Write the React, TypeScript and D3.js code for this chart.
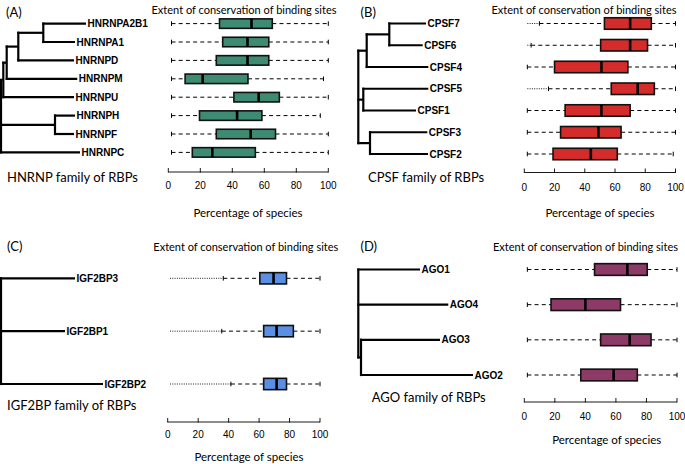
import React from "react";
import * as d3 from "d3";

type TNode = { name?: string; len: number; children?: TNode[] };

// ---------- Panel A: HNRNP ----------
const hnrnpNames = ["HNRNPA2B1", "HNRNPA1", "HNRNPD", "HNRNPM", "HNRNPU", "HNRNPH", "HNRNPF", "HNRNPC"];
const hnrnpOut: (number | null)[] = [null, null, null, null, null, null, null, null];
const hnrnpLow = [2, 2, 2, 2, 2, 2, 2, 2];
const hnrnpQ1 = [32, 34, 30, 10.5, 41, 19.5, 30, 15];
const hnrnpMed = [52, 49.5, 49.5, 21.5, 56.5, 43, 51.5, 27.5];
const hnrnpQ3 = [65, 62.8, 62.8, 49.8, 69.4, 58.5, 67, 54.4];
const hnrnpHigh = [100, 100, 100, 97, 100, 95, 100, 100];
const hnrnpTree: TNode = {
  len: 0,
  children: [
    {
      len: 2.3,
      children: [
        {
          len: 3.4,
          children: [
            {
              len: 11.6,
              children: [
                { len: 25, children: [{ name: "HNRNPA2B1", len: 42.7 }, { name: "HNRNPA1", len: 31.7 }] },
                { name: "HNRNPD", len: 55.7 },
              ],
            },
            { name: "HNRNPM", len: 70.6 },
          ],
        },
        { name: "HNRNPU", len: 70.7 },
      ],
    },
    { len: 54, children: [{ name: "HNRNPH", len: 20 }, { name: "HNRNPF", len: 19 }] },
    { name: "HNRNPC", len: 79 },
  ],
};

// ---------- Panel B: CPSF ----------
const cpsfNames = ["CPSF7", "CPSF6", "CPSF4", "CPSF5", "CPSF1", "CPSF3", "CPSF2"];
const cpsfOut: (number | null)[] = [2, 2, null, 2, null, null, null];
const cpsfLow = [10, 4.5, 2, 16, 2, 2, 2];
const cpsfQ1 = [53, 50.5, 20, 57.5, 27, 24, 19];
const cpsfMed = [70, 70, 51, 75, 51, 49, 44];
const cpsfQ3 = [84, 81.5, 68.5, 86, 70, 64, 61.5];
const cpsfHigh = [100, 100, 100, 100, 100, 100, 98.5];
const cpsfTree: TNode = {
  len: 0,
  children: [
    {
      len: 8.4,
      children: [
        { len: 22.6, children: [{ name: "CPSF7", len: 36.7 }, { name: "CPSF6", len: 33.4 }] },
        { name: "CPSF4", len: 61.6 },
      ],
    },
    { len: 5, children: [{ name: "CPSF5", len: 65 }, { name: "CPSF1", len: 52.7 }] },
    { len: 11.7, children: [{ name: "CPSF3", len: 57.3 }, { name: "CPSF2", len: 58 }] },
  ],
};

// ---------- Panel C: IGF2BP ----------
const igfNames = ["IGF2BP3", "IGF2BP1", "IGF2BP2"];
const igfOut: (number | null)[] = [1.5, 1.5, 1.5];
const igfLow = [36.5, 35.5, 41.5];
const igfQ1 = [60.5, 63, 63];
const igfMed = [69.5, 71.5, 71.5];
const igfQ3 = [78, 82.5, 78];
const igfHigh = [100, 100, 100];
const igfTree: TNode = {
  len: 0,
  children: [
    { name: "IGF2BP3", len: 74 },
    { name: "IGF2BP1", len: 64 },
    { name: "IGF2BP2", len: 102 },
  ],
};

// ---------- Panel D: AGO ----------
const agoNames = ["AGO1", "AGO4", "AGO3", "AGO2"];
const agoOut: (number | null)[] = [null, null, null, null];
const agoLow = [2, 2, 2, 2];
const agoQ1 = [46, 17.5, 50, 37];
const agoMed = [67.5, 40, 69, 58.5];
const agoQ3 = [80.5, 63, 83, 74];
const agoHigh = [100, 100, 100, 100];
const agoTree: TNode = {
  len: 0,
  children: [
    { name: "AGO1", len: 61.7 },
    { name: "AGO4", len: 90 },
    { len: 2.7, children: [{ name: "AGO3", len: 79 }, { name: "AGO2", len: 112 }] },
  ],
};

const ticks = [0, 20, 40, 60, 80, 100];
const titleText = "Extent of conservation of binding sites";
const xLabel = "Percentage of species";

const SANS = "'Liberation Sans', Arial, Helvetica, sans-serif";
const HUM = "Lato, 'Open Sans', sans-serif";

interface PanelProps {
  letter: string;
  family: string;
  names: string[];
  out: (number | null)[];
  low: number[];
  q1: number[];
  med: number[];
  q3: number[];
  high: number[];
  tree: TNode;
  color: string;
  letterPos: [number, number];
  treeX: number;
  rowsY: [number, number];
  boxX: [number, number];
  axisY: number;
  tickY: number;
  xLabelPos: [number, number];
  titlePos: [number, number];
  familyPos: [number, number];
  boxH: number;
}

function Panel(p: PanelProps) {
  const y = d3.scalePoint<string>().domain(p.names).range(p.rowsY);
  const x = d3.scaleLinear().domain([0, 100]).range(p.boxX);
  const tx = d3.scaleLinear().domain([0, 100]).range([p.treeX, p.treeX + 100]);

  const root = d3.hierarchy<TNode>(p.tree, (d) => d.children);
  const pos = new Map<any, { d: number; y: number }>();
  root.each((n) => {
    const parentD = n.parent ? pos.get(n.parent)!.d : 0;
    pos.set(n, { d: parentD + n.data.len, y: 0 });
  });
  root.eachAfter((n) => {
    const o = pos.get(n)!;
    if (n.children && n.children.length) {
      o.y = d3.mean(n.children, (c) => pos.get(c)!.y) as number;
    } else {
      o.y = y(n.data.name!) as number;
    }
  });

  const treeEls: React.ReactNode[] = [];
  root.each((n) => {
    const o = pos.get(n)!;
    if (n.parent) {
      const po = pos.get(n.parent)!;
      treeEls.push(
        <line key={"h" + treeEls.length} x1={tx(po.d) - 1} x2={tx(o.d)} y1={o.y} y2={o.y} stroke="#000" strokeWidth={2.2} />
      );
    }
    if (n.children && n.children.length) {
      const ys = n.children.map((c) => pos.get(c)!.y);
      treeEls.push(
        <line key={"v" + treeEls.length} x1={tx(o.d)} x2={tx(o.d)} y1={Math.min(...ys) - 1.1} y2={Math.max(...ys) + 1.1} stroke="#000" strokeWidth={2.2} />
      );
    } else {
      treeEls.push(
        <text key={"t" + treeEls.length} x={tx(o.d) + 1.5} y={o.y} dominantBaseline="central" fontFamily={SANS} fontWeight="bold" fontSize={10} fill="#000">
          {n.data.name}
        </text>
      );
    }
  });

  const half = p.boxH / 2;
  return (
    <g>
      <text x={p.letterPos[0]} y={p.letterPos[1]} dominantBaseline="central" fontFamily={HUM} fontSize={13} fill="#000">
        {p.letter}
      </text>
      <text
        x={p.titlePos[0]}
        y={p.titlePos[1]}
        dominantBaseline="central"
        fontFamily={HUM}
        fontSize={11.4}
        textLength={185}
        lengthAdjust="spacingAndGlyphs"
        fill="#000"
      >
        {titleText}
      </text>
      <text x={p.familyPos[0]} y={p.familyPos[1]} dominantBaseline="central" fontFamily={HUM} fontSize={13} fill="#000">
        {p.family}
      </text>
      {treeEls}
      {p.names.map((nm, i) => {
        const cy = y(nm) as number;
        const o = p.out[i];
        return (
          <g key={nm}>
            {o !== null && (
              <line x1={x(o)} x2={x(p.low[i])} y1={cy} y2={cy} stroke="#000" strokeWidth={0.9} strokeDasharray="1,1.3" />
            )}
            <line x1={x(p.low[i])} x2={x(p.q1[i])} y1={cy} y2={cy} stroke="#000" strokeWidth={1} strokeDasharray="4,3.2" />
            <line x1={x(p.q3[i])} x2={x(p.high[i])} y1={cy} y2={cy} stroke="#000" strokeWidth={1} strokeDasharray="4,3.2" />
            <line x1={x(p.low[i])} x2={x(p.low[i])} y1={cy - 2.3} y2={cy + 2.3} stroke="#000" strokeWidth={1} />
            <line x1={x(p.high[i])} x2={x(p.high[i])} y1={cy - 2.3} y2={cy + 2.3} stroke="#000" strokeWidth={1} />
            <rect
              x={x(p.q1[i])}
              y={cy - half}
              width={x(p.q3[i]) - x(p.q1[i])}
              height={p.boxH}
              fill={p.color}
              stroke="#111"
              strokeWidth={1.6}
            />
            <line x1={x(p.med[i])} x2={x(p.med[i])} y1={cy - half} y2={cy + half} stroke="#000" strokeWidth={2.6} />
          </g>
        );
      })}
      <line x1={x(0)} x2={x(100)} y1={p.axisY} y2={p.axisY} stroke="#000" strokeWidth={0.9} />
      {ticks.map((t) => (
        <g key={t}>
          <line x1={x(t)} x2={x(t)} y1={p.axisY - 4} y2={p.axisY + 0.5} stroke="#000" strokeWidth={0.9} />
          <text x={x(t)} y={p.tickY} textAnchor="middle" dominantBaseline="central" fontFamily={SANS} fontSize={10} fill="#000">
            {t}
          </text>
        </g>
      ))}
      <text x={p.xLabelPos[0]} y={p.xLabelPos[1]} textAnchor="middle" dominantBaseline="central" fontFamily={HUM} fontSize={11.5} fill="#000">
        {xLabel}
      </text>
    </g>
  );
}

export default function App() {
  return (
    <svg width={685} height={464} style={{ position: "absolute", left: 0, top: 0, background: "#fff" }}>
      <rect width={685} height={464} fill="#fff" />
      <Panel
        letter="(A)"
        family="HNRNP family of RBPs"
        names={hnrnpNames}
        out={hnrnpOut}
        low={hnrnpLow}
        q1={hnrnpQ1}
        med={hnrnpMed}
        q3={hnrnpQ3}
        high={hnrnpHigh}
        tree={hnrnpTree}
        color="#3d8b72"
        letterPos={[6, 12]}
        treeX={1}
        rowsY={[23.6, 152.4]}
        boxX={[168.3, 328.3]}
        axisY={172}
        tickY={185.5}
        xLabelPos={[248, 212]}
        titlePos={[151.5, 9.5]}
        familyPos={[7, 176.5]}
        boxH={9.5}
      />
      <Panel
        letter="(B)"
        family="CPSF family of RBPs"
        names={cpsfNames}
        out={cpsfOut}
        low={cpsfLow}
        q1={cpsfQ1}
        med={cpsfMed}
        q3={cpsfQ3}
        high={cpsfHigh}
        tree={cpsfTree}
        color="#d42b2b"
        letterPos={[360.5, 12]}
        treeX={358.3}
        rowsY={[23.5, 154]}
        boxX={[524.3, 675.5]}
        axisY={172.5}
        tickY={187}
        xLabelPos={[600, 212]}
        titlePos={[491.5, 9.5]}
        familyPos={[368, 176.5]}
        boxH={11.5}
      />
      <Panel
        letter="(C)"
        family="IGF2BP family of RBPs"
        names={igfNames}
        out={igfOut}
        low={igfLow}
        q1={igfQ1}
        med={igfMed}
        q3={igfQ3}
        high={igfHigh}
        tree={igfTree}
        color="#5a8fe3"
        letterPos={[7, 246]}
        treeX={1}
        rowsY={[278.3, 384]}
        boxX={[167.7, 320]}
        axisY={422}
        tickY={434}
        xLabelPos={[249, 456]}
        titlePos={[153.3, 246.5]}
        familyPos={[7, 405]}
        boxH={11.3}
      />
      <Panel
        letter="(D)"
        family="AGO family of RBPs"
        names={agoNames}
        out={agoOut}
        low={agoLow}
        q1={agoQ1}
        med={agoMed}
        q3={agoQ3}
        high={agoHigh}
        tree={agoTree}
        color="#8e3a66"
        letterPos={[360.5, 246]}
        treeX={358.3}
        rowsY={[269.5, 375]}
        boxX={[524.3, 677]}
        axisY={402}
        tickY={416.5}
        xLabelPos={[606.7, 439.3]}
        titlePos={[493, 246.5]}
        familyPos={[371.7, 396.7]}
        boxH={11.7}
      />
    </svg>
  );
}
